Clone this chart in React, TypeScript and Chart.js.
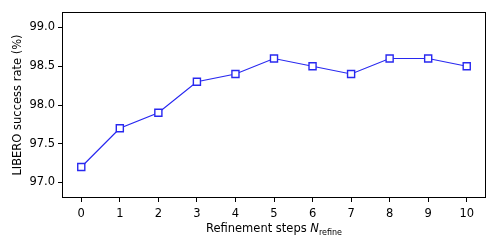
import React, { useEffect, useRef } from "react";
import { Chart, registerables } from "chart.js";

Chart.register(...registerables);

const steps = ["0", "1", "2", "3", "4", "5", "6", "7", "8", "9", "10"];
const successRate = [97.2, 97.7, 97.9, 98.3, 98.4, 98.6, 98.5, 98.4, 98.6, 98.6, 98.5];
const yTicks = [97.0, 97.5, 98.0, 98.5, 99.0];

const FONT = "'DejaVu Sans', sans-serif";
const FS = 11.5;
const BLUE = "rgb(40,40,240)";

const framePlugin = {
  id: "frame",
  afterDraw(chart: any) {
    const { ctx, chartArea } = chart;
    ctx.save();
    ctx.strokeStyle = "#000";
    ctx.lineWidth = 1;
    ctx.strokeRect(
      Math.round(chartArea.left) + 0.5,
      Math.round(chartArea.top) + 0.5,
      Math.round(chartArea.right - chartArea.left) - 1,
      Math.round(chartArea.bottom - chartArea.top) - 1
    );
    // x title with italic N and subscript
    const main = "Refinement steps ";
    const n = "N";
    const sub = "refine";
    ctx.fillStyle = "#000";
    ctx.textBaseline = "alphabetic";
    ctx.font = `${FS}px ${FONT}`;
    const w1 = ctx.measureText(main).width;
    ctx.font = `italic ${FS}px ${FONT}`;
    const w2 = ctx.measureText(n).width;
    ctx.font = `8px ${FONT}`;
    const w3 = ctx.measureText(sub).width;
    const total = w1 + w2 + w3;
    const cx = (chartArea.left + chartArea.right) / 2;
    let x = cx - total / 2;
    const y = 232;
    ctx.textAlign = "left";
    ctx.font = `${FS}px ${FONT}`;
    ctx.fillText(main, x, y);
    x += w1;
    ctx.font = `italic ${FS}px ${FONT}`;
    ctx.fillText(n, x, y);
    x += w2;
    ctx.font = `8px ${FONT}`;
    ctx.fillText(sub, x, y + 2.5);
    ctx.restore();
  },
};

export default function App() {
  const ref = useRef<HTMLCanvasElement>(null);
  useEffect(() => {
    if (!ref.current) return;
    const chart = new Chart(ref.current, {
      type: "line",
      data: {
        labels: steps,
        datasets: [
          {
            data: successRate,
            borderColor: BLUE,
            borderWidth: 1.2,
            pointStyle: "rect",
            pointRadius: 5,
            pointBorderWidth: 1.4,
            pointBackgroundColor: "#fff",
            pointBorderColor: BLUE,
            tension: 0,
          },
        ],
      },
      options: {
        animation: false,
        responsive: false,
        devicePixelRatio: 1,
        layout: { padding: { left: 0, right: 12, top: 12, bottom: 0 } },
        plugins: {
          legend: { display: false },
          tooltip: { enabled: false },
        },
        scales: {
          x: {
            type: "category",
            offset: true,
            grid: {
              drawOnChartArea: false,
              drawTicks: true,
              tickLength: 4,
              color: "#000",
              offset: false,
            },
            border: { display: false },
            ticks: {
              color: "#000",
              font: { family: FONT, size: FS },
              padding: 5,
              maxRotation: 0,
            },
            afterFit(scale: any) {
              scale.height = 51;
            },
          },
          y: {
            type: "linear",
            min: 96.8,
            max: 99.2,
            grid: {
              drawOnChartArea: false,
              drawTicks: true,
              tickLength: 4,
              color: "#000",
            },
            border: { display: false },
            ticks: {
              color: "#000",
              font: { family: FONT, size: FS },
              padding: 3,
              callback: (v: any) => Number(v).toFixed(1),
            },
            afterBuildTicks(scale: any) {
              scale.ticks = yTicks.map((v) => ({ value: v }));
            },
            afterFit(scale: any) {
              scale.width = 62;
            },
            title: {
              display: true,
              text: "LIBERO success rate (%)",
              color: "#000",
              font: { family: FONT, size: FS },
              padding: { top: 11, bottom: 0 },
            },
          },
        },
      },
      plugins: [framePlugin],
    });
    return () => chart.destroy();
  }, []);
  return (
    <div style={{ position: "fixed", left: 0, top: 0, width: 498, height: 249, background: "#fff" }}>
      <canvas ref={ref} width={498} height={249} />
    </div>
  );
}
